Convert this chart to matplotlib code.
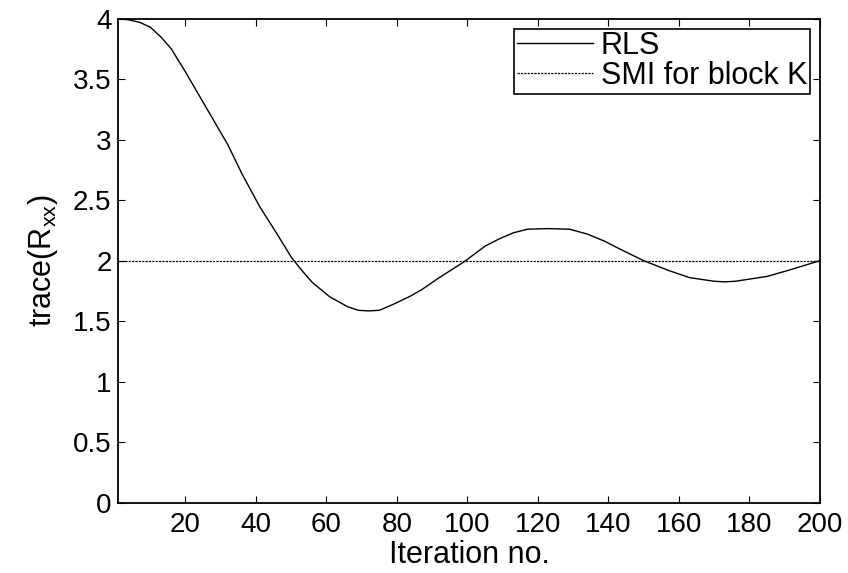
import matplotlib
matplotlib.use("Agg")
import matplotlib.pyplot as plt

iterations = [1, 4, 7, 10, 13, 16, 20, 24, 28, 32, 36, 41, 46, 50, 53, 56, 61, 66, 69, 72,
              75, 79, 84, 87, 92, 99, 105, 109, 113, 117, 123, 129, 134, 139, 143, 150, 157,
              163, 170, 173, 176, 185, 191, 200]
rls_trace = [4.00, 3.99, 3.97, 3.93, 3.85, 3.75, 3.56, 3.36, 3.16, 2.96, 2.72, 2.45, 2.22,
             2.03, 1.92, 1.82, 1.70, 1.62, 1.59, 1.585, 1.59, 1.64, 1.71, 1.76, 1.86, 1.99,
             2.12, 2.18, 2.23, 2.26, 2.265, 2.26, 2.22, 2.16, 2.10, 2.00, 1.92, 1.86, 1.83,
             1.825, 1.83, 1.87, 1.92, 2.00]
smi_x = [1, 200]
smi_trace = [2.0, 2.0]

xticks = [20, 40, 60, 80, 100, 120, 140, 160, 180, 200]
yticks = [0, 0.5, 1, 1.5, 2, 2.5, 3, 3.5, 4]
ytick_labels = ["0", "0.5", "1", "1.5", "2", "2.5", "3", "3.5", "4"]

plt.rcParams['font.family'] = ['Liberation Sans', 'DejaVu Sans']
plt.rcParams['mathtext.fontset'] = 'custom'
plt.rcParams['mathtext.rm'] = 'Liberation Sans'
plt.rcParams['mathtext.it'] = 'Liberation Sans'

fig = plt.figure(figsize=(8.48, 5.73), dpi=100)
ax = fig.add_axes([0.1397, 0.1227, 0.8272, 0.8447])

ax.plot(iterations, rls_trace, color='black', lw=1.0, label='RLS')
ax.plot(smi_x, smi_trace, color='black', lw=0.9, ls=(0, (1.8, 0.9)), label='SMI for block K')

ax.set_xlim(1, 200)
ax.set_ylim(0, 4)
ax.set_xticks(xticks)
ax.set_yticks(yticks)
ax.set_yticklabels(ytick_labels)
ax.tick_params(direction='in', top=True, right=True, labelsize=20, length=5, width=0.8)
ax.tick_params(axis='x', pad=7)
ax.tick_params(axis='y', pad=5)
for s in ax.spines.values():
    s.set_linewidth(1.3)

ax.set_xlabel('Iteration no.', fontsize=22, labelpad=1)
ax.set_ylabel(r'trace(R$_{\mathrm{xx}}$)', fontsize=22, labelpad=9)

leg = ax.legend(loc='upper right', bbox_to_anchor=(0.9857, 0.9793), fontsize=22,
                fancybox=False, framealpha=1, edgecolor='black', handlelength=2.5,
                borderaxespad=0, handletextpad=0.25, borderpad=0.08, labelspacing=0.0)
leg.get_frame().set_linewidth(1.2)

fig.savefig('out.png', dpi=100)
